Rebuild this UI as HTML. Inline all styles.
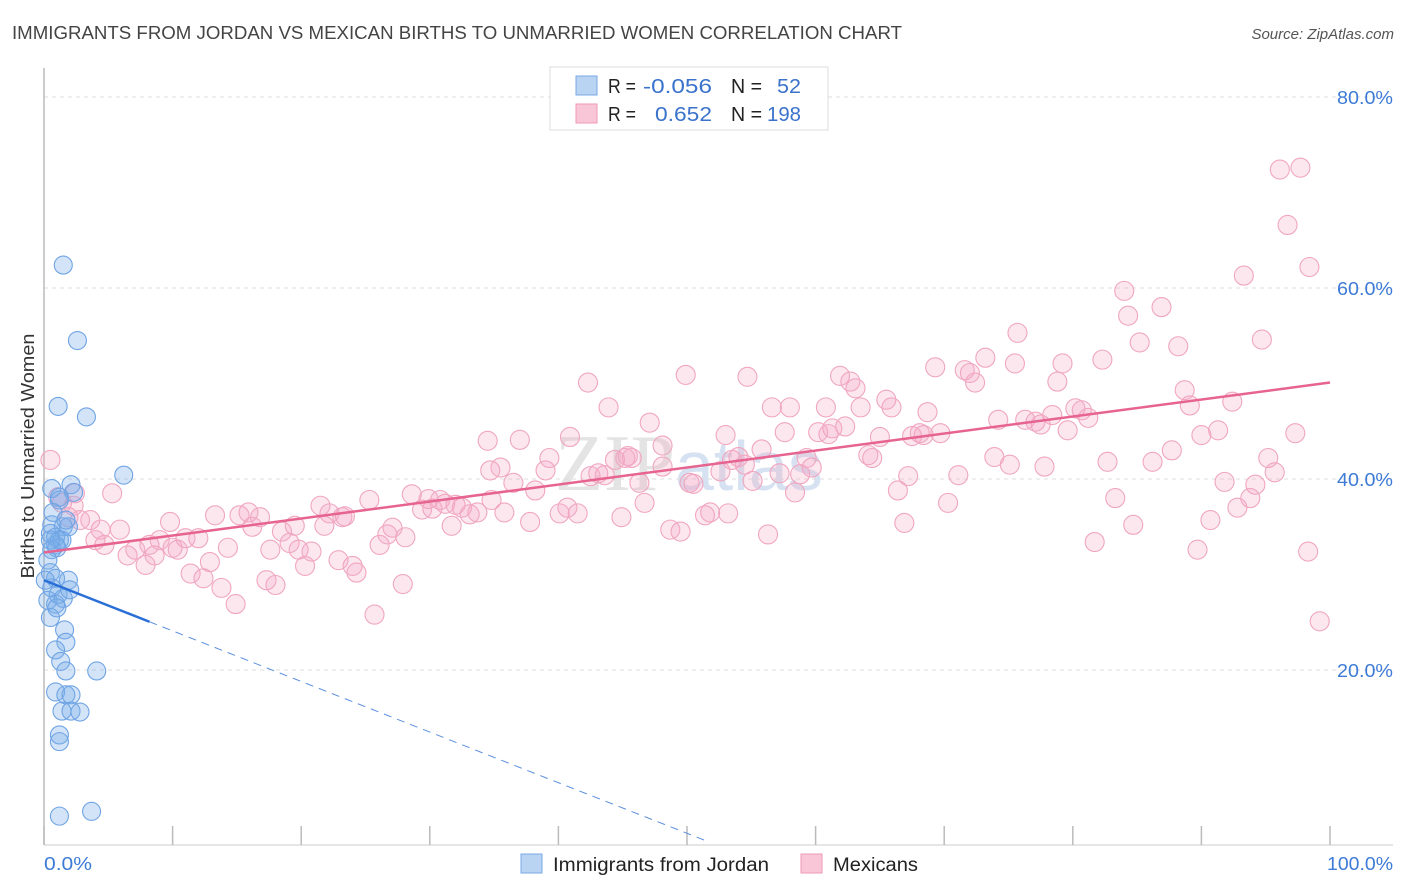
<!DOCTYPE html>
<html><head><meta charset="utf-8"><style>
body{margin:0;background:#fff;font-family:"Liberation Sans",sans-serif}
svg{display:block}
</style></head><body>
<svg id="c" width="1406" height="892">
<text x="12" y="39" font-size="18" fill="#444" textLength="890" lengthAdjust="spacingAndGlyphs">IMMIGRANTS FROM JORDAN VS MEXICAN BIRTHS TO UNMARRIED WOMEN CORRELATION CHART</text>
<text x="1394" y="39" font-size="15" fill="#555" font-style="italic" text-anchor="end">Source: ZipAtlas.com</text>
<text transform="translate(34,456) rotate(-90)" font-size="18" fill="#333" text-anchor="middle" textLength="245" lengthAdjust="spacingAndGlyphs">Births to Unmarried Women</text>
<text x="555" y="490" font-size="80" fill="#e4e4e4" font-family="Liberation Serif">ZIP<tspan font-family="Liberation Sans" fill="#d6e2f2" font-size="70">atlas</tspan></text>
<g id="grid"></g><g id="pts"></g><g id="lines"></g>
<g>
<rect x="550" y="67" width="278" height="63" fill="#fff" stroke="#ddd"/>
<rect x="576" y="76" width="21" height="19" fill="#b9d3f3" stroke="#7aaae6"/>
<rect x="576" y="104" width="21" height="19" fill="#f8c6d6" stroke="#ee9ab8"/>
<text y="93" font-size="20" fill="#222"><tspan x="608" textLength="28" lengthAdjust="spacingAndGlyphs">R =</tspan><tspan x="643" fill="#3a72cc" textLength="69" lengthAdjust="spacingAndGlyphs">-0.056</tspan><tspan x="731" textLength="31" lengthAdjust="spacingAndGlyphs">N =</tspan><tspan x="777" fill="#3a72cc" textLength="24" lengthAdjust="spacingAndGlyphs">52</tspan></text>
<text y="121" font-size="20" fill="#222"><tspan x="608" textLength="28" lengthAdjust="spacingAndGlyphs">R =</tspan><tspan x="655" fill="#3a72cc" textLength="57" lengthAdjust="spacingAndGlyphs">0.652</tspan><tspan x="731" textLength="31" lengthAdjust="spacingAndGlyphs">N =</tspan><tspan x="767" fill="#3a72cc" textLength="34" lengthAdjust="spacingAndGlyphs">198</tspan></text>
</g>
<g>
<rect x="521" y="854" width="21" height="19" fill="#b9d3f3" stroke="#7aaae6"/>
<text x="553" y="871" font-size="19" fill="#222" textLength="216" lengthAdjust="spacingAndGlyphs">Immigrants from Jordan</text>
<rect x="801" y="854" width="21" height="19" fill="#f8c6d6" stroke="#ee9ab8"/>
<text x="833" y="871" font-size="19" fill="#222" textLength="85" lengthAdjust="spacingAndGlyphs">Mexicans</text>
</g>
</svg>
<script>
const yTicks=[20,40,60,80];
const xTickCount=10;
const blueX=[1.5,2.6,1.1,3.3,6.2,0.6,2.1,2.3,1.2,0.6,1.5,1.9,0.5,0.9,1.2,0.9,0.6,1.0,1.4,0.5,0.9,1.9,0.6,1.1,0.3,0.9,1.5,0.5,1.6,1.7,0.9,1.3,1.7,4.1,0.9,1.7,2.1,1.4,2.1,2.8,1.2,1.2,3.7,1.2,0.5,0.3,1.0,2.0,0.1,0.7,1.7,1.2];
const blueY=[62.4,54.5,47.6,46.5,40.4,39.0,39.4,38.6,38.1,35.2,35.0,35.0,34.3,33.9,33.6,33.1,32.6,32.8,33.6,30.2,29.6,29.4,28.6,27.9,27.3,26.9,27.5,25.5,24.2,22.9,22.1,20.9,19.9,19.9,17.7,17.4,17.4,15.7,15.7,15.6,13.2,12.5,5.2,4.7,33.6,31.5,26.5,28.4,29.4,36.5,35.7,37.8];
const pinkX=[0.5,1.1,2.4,1.4,2.3,1.9,2.8,3.6,4.4,5.3,4.0,4.7,5.9,6.5,7.1,7.9,8.2,8.6,9.0,9.8,10.0,10.4,11.0,11.4,12.0,12.4,12.9,13.3,13.8,14.3,14.9,15.2,15.9,16.2,16.8,17.3,17.6,18.0,18.5,19.1,19.5,19.8,20.3,20.8,21.5,21.8,22.2,22.9,23.2,23.4,24.0,24.3,25.3,25.7,26.1,26.7,27.1,27.9,28.1,28.6,29.4,29.9,30.2,30.8,31.2,31.7,32.0,32.5,33.1,33.7,34.5,34.7,34.8,35.5,35.8,36.5,37.0,37.8,38.2,39.0,39.3,40.1,40.7,40.9,41.5,42.3,42.5,43.1,43.6,43.9,44.4,45.2,45.4,44.9,45.7,46.3,46.7,47.1,48.1,48.1,48.7,49.5,49.9,50.2,50.5,51.4,51.8,52.6,53.0,53.2,53.5,54.0,54.5,54.7,55.1,55.8,56.3,56.6,57.2,57.6,58.0,58.4,58.8,59.3,59.7,60.2,60.8,61.0,61.3,61.9,62.3,62.7,63.1,63.5,64.1,64.4,65.0,65.5,65.9,66.4,66.9,67.2,67.5,68.1,68.4,68.7,69.3,69.7,70.3,71.1,71.6,72.0,72.4,73.2,73.9,74.2,75.1,75.5,75.7,76.3,77.1,77.5,77.8,78.4,78.8,79.2,79.6,80.2,80.7,81.2,81.7,82.3,82.7,83.3,84.0,84.3,84.7,85.2,86.2,86.9,87.7,88.2,88.7,89.1,89.7,90.0,90.7,91.3,91.8,92.4,92.8,93.3,93.8,94.2,94.7,95.2,95.7,96.1,96.7,97.3,97.7,98.3,98.4,99.2];
const pinkY=[42.0,38.1,38.5,37.5,37.2,36.0,35.7,35.7,34.7,38.5,33.6,33.1,34.7,32.0,32.6,31.0,33.1,32.0,33.6,35.5,32.8,32.6,33.8,30.1,33.8,29.6,31.3,36.2,28.6,32.8,26.9,36.2,36.5,35.0,36.0,29.4,32.6,28.9,34.5,33.3,35.1,32.6,30.9,32.4,37.2,35.1,36.4,31.5,36.0,36.1,30.9,30.2,37.8,25.8,33.1,34.2,34.9,29.0,33.9,38.4,36.8,37.9,36.9,37.8,37.4,35.1,37.3,37.0,36.3,36.5,44.0,40.9,37.8,41.2,36.5,39.6,44.1,35.5,38.8,40.9,42.2,36.4,37.0,44.4,36.4,50.1,40.3,40.6,40.4,47.5,42.0,42.2,42.4,36.0,42.2,39.6,37.5,45.9,43.5,41.3,34.7,34.5,50.9,39.6,39.5,36.2,36.5,40.8,44.6,36.4,42.0,42.3,41.5,50.7,39.8,43.1,34.2,47.5,40.6,44.9,47.5,38.6,40.5,42.2,41.2,44.9,47.5,44.7,45.3,50.8,45.5,50.2,49.5,47.5,42.5,42.2,44.4,48.3,47.5,38.8,35.4,40.3,44.5,44.8,44.6,47.0,51.7,44.8,37.5,40.4,51.4,51.1,50.1,52.7,42.3,46.2,41.5,52.1,55.3,46.2,46.0,45.7,41.3,46.7,50.2,52.1,45.1,47.4,47.2,46.4,33.4,52.5,41.8,38.0,59.7,57.1,35.2,54.3,41.8,58.0,43.0,53.9,49.3,47.7,32.6,44.6,35.7,45.1,39.7,48.1,37.0,61.3,38.0,39.4,54.6,42.2,40.7,72.4,66.6,44.8,72.6,32.4,62.2,25.1];
const pinkTrend=[32.3,50.1];      // y at x=0 and x=100
const blueTrend=[29.4,-0.53];     // intercept, slope
const blueSolidEnd=8.2, blueDashEnd=51.6;

const NS='http://www.w3.org/2000/svg';
const X=v=>44+v*12.86, Y=v=>861-v*9.55;
function mk(tag,attrs,parent){const e=document.createElementNS(NS,tag);for(const k in attrs)e.setAttribute(k,attrs[k]);parent.appendChild(e);return e;}
const grid=document.getElementById('grid'),pts=document.getElementById('pts'),lines=document.getElementById('lines');
for(const t of yTicks){
  const l=mk('line',{x1:44,x2:1393,y1:Y(t),y2:Y(t),stroke:'#ddd','stroke-dasharray':'4,4'},grid);
  
  
  const tx=mk('text',{x:1393,y:Y(t)+7,'font-size':18.5,fill:'#3d7bd6','text-anchor':'end',textLength:56,lengthAdjust:'spacingAndGlyphs'},grid);
  tx.textContent=t.toFixed(1)+'%';
  
  
}
const ax=mk('line',{x1:44,x2:44,y1:68,y2:845,stroke:'#bbb','stroke-width':1.5},grid);


const bx=mk('line',{x1:44,x2:1393,y1:845,y2:845,stroke:'#ccc'},grid);


for(let i=0;i<=xTickCount;i++){
  const t=mk('line',{x1:X(i*10),x2:X(i*10),y1:826,y2:845,stroke:'#bbb','stroke-width':1.5},grid);
  
  
}
const xl0=mk('text',{x:44,y:870,'font-size':18.5,fill:'#3d7bd6',textLength:48,lengthAdjust:'spacingAndGlyphs'},grid);xl0.textContent='0.0%';


const xl1=mk('text',{x:1393,y:870,'font-size':18.5,fill:'#3d7bd6','text-anchor':'end',textLength:66,lengthAdjust:'spacingAndGlyphs'},grid);xl1.textContent='100.0%';



pinkX.forEach((x,i)=>{
  const c=mk('circle',{cx:X(x),cy:Y(pinkY[i]),r:9.5,fill:'rgba(245,170,196,0.28)',stroke:'#f0a6c0','stroke-width':1.1},pts);
  
  
});
blueX.forEach((x,i)=>{
  const c=mk('circle',{cx:X(x),cy:Y(blueY[i]),r:9,fill:'rgba(120,172,235,0.33)',stroke:'#6fa4e4','stroke-width':1.1},pts);
  
  
});
const pl=mk('line',{x1:X(0),y1:Y(pinkTrend[0]),x2:X(100),y2:Y(pinkTrend[1]),stroke:'#e6648f','stroke-width':2.5},lines);


const bY=x=>blueTrend[0]+blueTrend[1]*x;
const bl=mk('line',{x1:X(0),y1:Y(bY(0)),x2:X(blueSolidEnd),y2:Y(bY(blueSolidEnd)),stroke:'#2a6fd6','stroke-width':2.5},lines);


const bd=mk('line',{x1:X(blueSolidEnd),y1:Y(bY(blueSolidEnd)),x2:X(blueDashEnd),y2:Y(bY(blueDashEnd)),stroke:'#5b8fdc','stroke-width':1,'stroke-dasharray':'8,6'},lines);


</script>
</body></html>
